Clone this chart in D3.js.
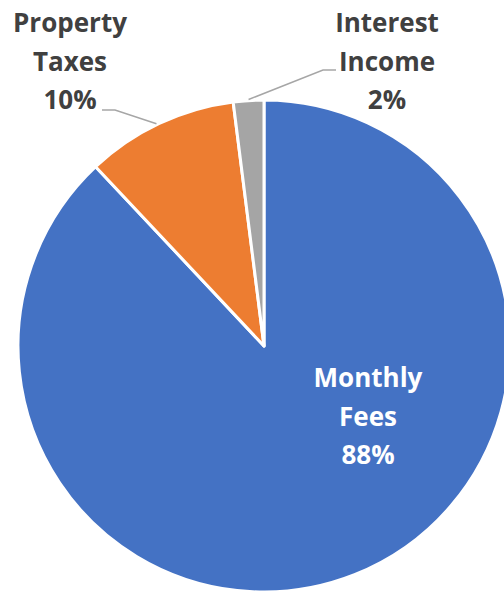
<!DOCTYPE html>
<html>
<head>
<meta charset="utf-8">
<script src="https://cdn.jsdelivr.net/npm/d3@7"></script>
<style>
html,body{margin:0;padding:0;background:#fff;overflow:hidden;}
svg{display:block;}
</style>
</head>
<body>
<svg id="chart" width="504" height="591"></svg>
<script>
const categories = ["Monthly Fees", "Property Taxes", "Interest Income"];
const values = [88, 10, 2];
const colors = ["#4472C4", "#ED7D31", "#A5A5A5"];
const labelLines = [["Monthly", "Fees"], ["Property", "Taxes"], ["Interest", "Income"]];

const svg = d3.select("#chart");
const cx = 264, cy = 346, R = 246;
const g = svg.append("g").attr("transform", `translate(${cx},${cy})`);

const pie = d3.pie().sort(null).value(d => d)(values);
const arc = d3.arc().innerRadius(0).outerRadius(R);

g.selectAll("path.slice").data(pie).enter().append("path")
  .attr("class", "slice")
  .attr("d", arc)
  .attr("fill", (d, i) => colors[i])
  .attr("stroke", "#fff")
  .attr("stroke-width", 3)
  .attr("stroke-linejoin", "round");

const total = d3.sum(values);
const fmt = v => Math.round(v / total * 100) + "%";
const font = "'Open Sans', Lato, sans-serif";

const labelPos = [
  {x: 368, y: 387, fill: "#fff"},
  {x: 70, y: 32, fill: "#404040"},
  {x: 387, y: 32, fill: "#404040"}
];
const lh = 38.7;

labelPos.forEach((p, i) => {
  const t = svg.append("text")
    .attr("x", p.x).attr("y", p.y)
    .attr("text-anchor", "middle")
    .attr("font-family", font)
    .attr("font-weight", "bold")
    .attr("font-size", 26)
    .attr("fill", p.fill);
  const lines = labelLines[i].concat([fmt(values[i])]);
  lines.forEach((ln, k) => {
    t.append("tspan").attr("x", p.x).attr("y", p.y + k * lh).text(ln);
  });
});

function edgePoint(d, frac) {
  const a = d.startAngle + (d.endAngle - d.startAngle) * frac;
  return [cx + Math.sin(a) * R, cy - Math.cos(a) * R];
}
const ptTax = edgePoint(pie[1], 0.48);
const ptInt = edgePoint(pie[2], 0.5);
const leaders = [
  [[102, 110], [115, 110], [ptTax[0], ptTax[1] - 1]],
  [[336, 70], [323, 70], [ptInt[0], ptInt[1] - 1]]
];
svg.selectAll("polyline.leader").data(leaders).enter().append("polyline")
  .attr("class", "leader")
  .attr("points", d => d.map(p => p.join(",")).join(" "))
  .attr("fill", "none")
  .attr("stroke", "#A6A6A6")
  .attr("stroke-width", 1.5);
</script>
</body>
</html>
